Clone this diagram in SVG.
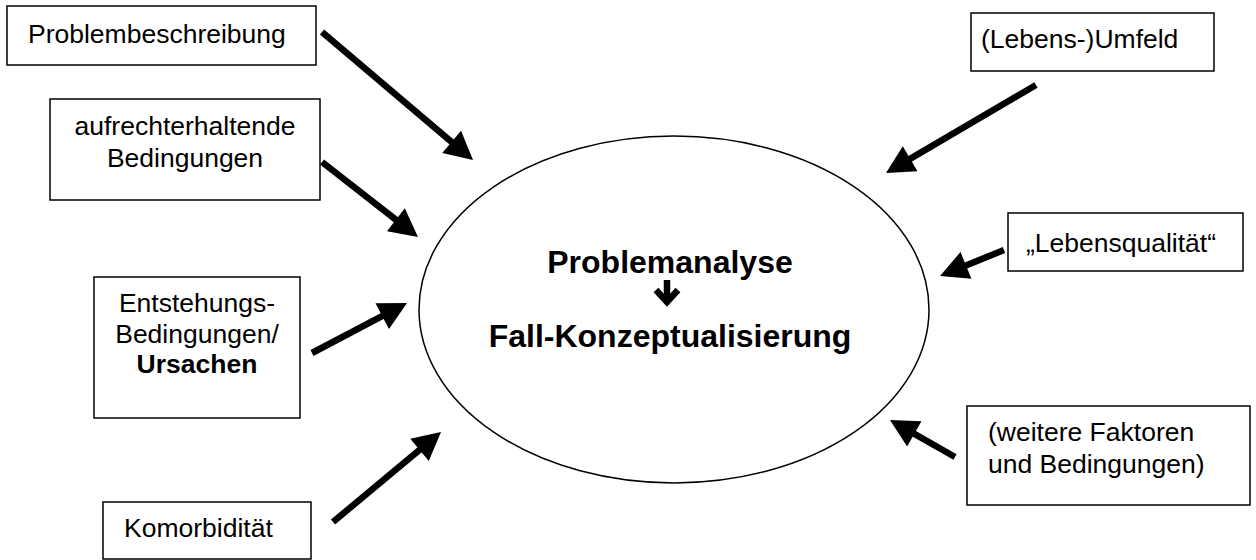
<svg xmlns="http://www.w3.org/2000/svg" width="1256" height="560" viewBox="0 0 1256 560">
<style>
.box{fill:#fff;stroke:#000;stroke-width:1.5}
.t{font-family:"Liberation Sans",Arial,sans-serif;font-size:26.5px;fill:#000}
.b{font-weight:bold}
.c{text-anchor:middle}
.big{font-family:"Liberation Sans",Arial,sans-serif;font-size:32px;font-weight:bold;fill:#000;text-anchor:middle}
.arr{stroke:#000;stroke-width:6.5;fill:none;marker-end:url(#head)}
</style>
<defs>
<marker id="head" markerUnits="userSpaceOnUse" markerWidth="28" markerHeight="29" refX="10" refY="14.5" orient="auto" overflow="visible">
<path d="M0,0 L28,14.5 L0,29 Z" fill="#000"/>
</marker>
</defs>
<rect width="1256" height="560" fill="#fff"/>
<g id="center">
<ellipse cx="674" cy="309.5" rx="255" ry="173.5" fill="none" stroke="#000" stroke-width="1.5"/>
<text class="big" x="670" y="273">Problemanalyse</text>
<path d="M667,280 L667,302" stroke="#000" stroke-width="6.5" fill="none"/>
<path d="M656,290 L667,302 L678,290" stroke="#000" stroke-width="6.5" fill="none" stroke-linejoin="miter" stroke-miterlimit="6"/>
<text class="big" x="670" y="347">Fall-Konzeptualisierung</text>
</g>
<g id="n-problembeschreibung">
<rect class="box" x="7" y="6" width="309" height="59"/>
<text class="t" x="28" y="43">Problembeschreibung</text>
</g>
<g id="n-aufrecht">
<rect class="box" x="50" y="99" width="270" height="101"/>
<text class="t c" x="185" y="135">aufrechterhaltende</text>
<text class="t c" x="185" y="167">Bedingungen</text>
</g>
<g id="n-entstehung">
<rect class="box" x="94" y="277" width="206" height="141"/>
<text class="t c" x="197" y="312">Entstehungs-</text>
<text class="t c" x="197" y="343">Bedingungen/</text>
<text class="t c b" x="197" y="373">Ursachen</text>
</g>
<g id="n-komorbiditaet">
<rect class="box" x="103" y="502" width="208" height="57"/>
<text class="t" x="124" y="537">Komorbidität</text>
</g>
<g id="n-umfeld">
<rect class="box" x="971" y="13" width="243" height="58"/>
<text class="t" x="981" y="48">(Lebens-)Umfeld</text>
</g>
<g id="n-lebensqualitaet">
<rect class="box" x="1008" y="213" width="235" height="58"/>
<text class="t" x="1026" y="252">„Lebensqualität“</text>
</g>
<g id="n-weitere">
<rect class="box" x="967" y="406" width="283" height="99"/>
<text class="t" x="988" y="441">(weitere Faktoren</text>
<text class="t" x="988" y="473">und Bedingungen)</text>
</g>
<g id="connectors">
<line class="arr" x1="322" y1="32" x2="459.3" y2="148.4"/>
<line class="arr" x1="322" y1="162" x2="403.8" y2="225.9"/>
<line class="arr" x1="312" y1="353" x2="391.1" y2="311.4"/>
<line class="arr" x1="333" y1="522" x2="427.2" y2="443.5"/>
<line class="arr" x1="1036" y1="85" x2="901.5" y2="163.9"/>
<line class="arr" x1="1004" y1="250" x2="956.7" y2="269.2"/>
<line class="arr" x1="955" y1="457" x2="905.6" y2="428.9"/>
</g>
</svg>
